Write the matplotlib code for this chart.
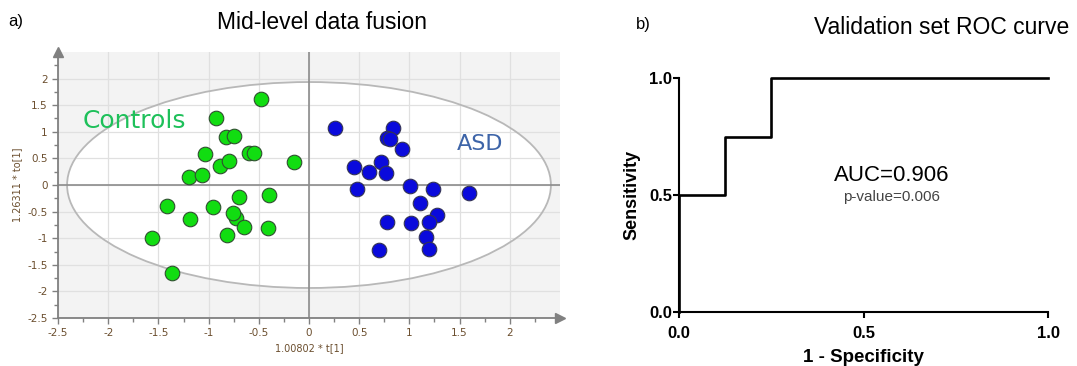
"""
Two panels: a) OPLS-DA score plot (mid-level data fusion), b) validation ROC curve.
Output: out.png
"""
import numpy as np
import matplotlib
matplotlib.use("Agg")
import matplotlib.pyplot as plt
from matplotlib.patches import Ellipse

# scores
ctrl_t = [-0.48, -0.93, -0.83, -0.75, -1.04, -0.60, -0.55, -0.89, -0.80, -1.20, -1.07, -0.15,
          -0.70, -0.40, -1.41, -0.96, -1.19, -0.73, -0.76, -0.65, -0.41, -0.82, -1.56, -1.36]
ctrl_to = [1.61, 1.25, 0.90, 0.93, 0.58, 0.60, 0.60, 0.36, 0.45, 0.15, 0.19, 0.44,
           -0.22, -0.19, -0.39, -0.41, -0.64, -0.62, -0.52, -0.79, -0.81, -0.94, -0.99, -1.65]
asd_t = [0.26, 0.84, 0.78, 0.81, 0.93, 0.45, 0.60, 0.72, 0.77, 0.48, 1.01, 1.24, 1.59,
         1.11, 1.28, 1.20, 0.78, 1.02, 1.17, 1.20, 0.70]
asd_to = [1.08, 1.08, 0.88, 0.86, 0.67, 0.34, 0.24, 0.43, 0.22, -0.07, -0.02, -0.07, -0.15,
          -0.34, -0.56, -0.69, -0.69, -0.71, -0.97, -1.20, -1.23]
score_ticks = [-2.5, -2, -1.5, -1, -0.5, 0, 0.5, 1, 1.5, 2]

# ROC curve
fpr = [0.0, 0.0, 0.125, 0.125, 0.25, 0.25, 1.0]
tpr = [0.0, 0.5, 0.5, 0.75, 0.75, 1.0, 1.0]

ARIAL = "Liberation Sans"

fig = plt.figure(figsize=(10.77, 3.66), dpi=100)

# ---- a) score plot
ax = fig.add_axes([0.0539, 0.131, 0.466, 0.727])
ax.set_facecolor("#f3f3f3")
ax.add_patch(Ellipse((0, 0), 4.82, 3.87, facecolor="white", edgecolor="none", zorder=0.2))
ax.add_patch(Ellipse((0, 0), 4.82, 3.87, facecolor="none", edgecolor="#b8b8b8",
                     linewidth=1.3, zorder=1))
ax.set_xlim(-2.5, 2.5)
ax.set_ylim(-2.5, 2.5)
ax.set_xticks(score_ticks)
ax.set_yticks(score_ticks)
ax.set_xticks(np.arange(-2.25, 2.5, 0.5), minor=True)
ax.set_yticks(np.arange(-2.25, 2.5, 0.5), minor=True)
ax.set_xticklabels([f"{v:g}" for v in score_ticks])
ax.set_yticklabels([f"{v:g}" for v in score_ticks])
ax.grid(True, which="major", color="#e0e0e0", linewidth=0.9)
ax.set_axisbelow(True)
ax.axhline(0, color="#8c8c8c", linewidth=1.2, zorder=2)
ax.axvline(0, color="#8c8c8c", linewidth=1.2, zorder=2)
ax.tick_params(which="both", direction="out", colors="#808080", labelcolor="#6b4e2e",
               labelsize=7.5, width=1)
ax.tick_params(which="major", length=4)
ax.tick_params(which="minor", length=3)
for s in ["top", "right"]:
    ax.spines[s].set_visible(False)
for s in ["left", "bottom"]:
    ax.spines[s].set_color("#808080")
    ax.spines[s].set_linewidth(1.3)
ax.plot(1.0, 0, ">", color="#808080", markersize=7, transform=ax.transAxes, clip_on=False)
ax.plot(0, 1.0, "^", color="#808080", markersize=7, transform=ax.transAxes, clip_on=False)

ax.scatter(ctrl_t, ctrl_to, s=110, c="#11dd11", edgecolors="#2f4f2f", linewidths=0.8, zorder=4)
ax.scatter(asd_t, asd_to, s=110, c="#0a0adc", edgecolors="#333355", linewidths=0.8, zorder=4)
ax.text(-2.26, 1.21, "Controls", color="#1ec05a", fontsize=18, va="center", ha="left", zorder=5)
ax.text(1.47, 0.78, "ASD", color="#3d64a8", fontsize=16, va="center", ha="left", zorder=5)
ax.set_xlabel("1.00802 * t[1]", fontsize=7, color="#6b4e2e", labelpad=3)
ax.set_ylabel("1.26311 * to[1]", fontsize=7, color="#6b4e2e", labelpad=4)
fig.text(0.299, 0.938, "Mid-level data fusion", fontsize=16.5, ha="center", va="center",
         family=ARIAL)
fig.text(0.008, 0.94, "a)", fontsize=12, ha="left", va="center", family=ARIAL)

# ---- b) ROC
bx = fig.add_axes([0.6305, 0.1475, 0.3426, 0.639])
bx.plot(fpr, tpr, color="black", linewidth=1.9, clip_on=False, zorder=3)
bx.set_xlim(0, 1)
bx.set_ylim(0, 1)
bx.set_xticks([0, 0.5, 1.0])
bx.set_yticks([0, 0.5, 1.0])
bx.set_xticklabels(["0.0", "0.5", "1.0"], fontweight="bold", fontsize=12, family=ARIAL)
bx.set_yticklabels(["0.0", "0.5", "1.0"], fontweight="bold", fontsize=12, family=ARIAL)
bx.tick_params(axis="x", direction="out", length=4, width=1.5, pad=6)
bx.tick_params(axis="y", direction="out", length=4, width=1.5, pad=1)
for s in ["top", "right"]:
    bx.spines[s].set_visible(False)
for s in ["left", "bottom"]:
    bx.spines[s].set_linewidth(1.5)
bx.set_xlabel("1 - Specificity", fontsize=13.5, fontweight="bold", labelpad=6, family=ARIAL)
bx.set_ylabel("Sensitivity", fontsize=13, fontweight="bold", labelpad=6, family=ARIAL)
bx.text(0.575, 0.585, "AUC=0.906", fontsize=16, ha="center", va="center", family=ARIAL)
bx.text(0.575, 0.49, "p-value=0.006", fontsize=11, ha="center", va="center", color="#444444",
        family=ARIAL)
fig.text(0.874, 0.925, "Validation set ROC curve", fontsize=16.5, ha="center", va="center",
         family=ARIAL)
fig.text(0.59, 0.932, "b)", fontsize=12, ha="left", va="center", family=ARIAL)

fig.savefig("out.png", dpi=100)
